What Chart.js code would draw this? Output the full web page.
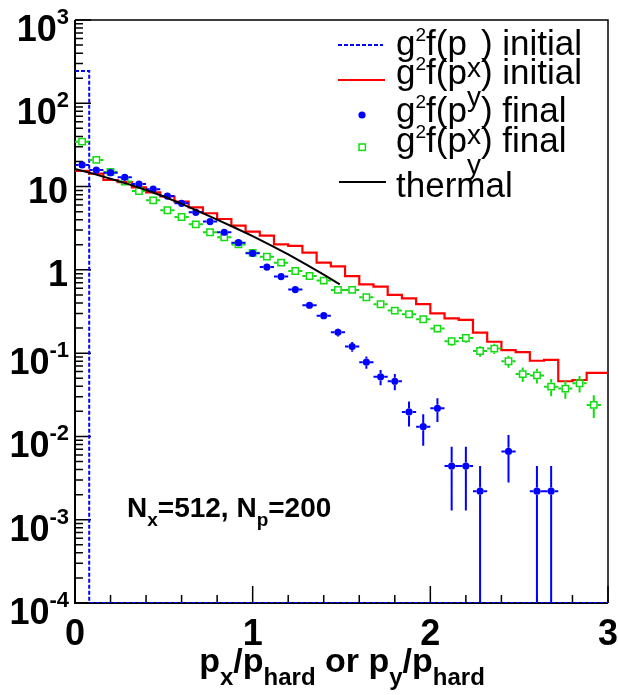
<!DOCTYPE html>
<html>
<head>
<meta charset="utf-8">
<script src="https://cdn.jsdelivr.net/npm/chart.js@4.4.1/dist/chart.umd.min.js"></script>
<style>
  html, body { margin: 0; padding: 0; background: #fff; }
  canvas { display: block; }
</style>
</head>
<body>
<canvas id="chart" width="618" height="695"></canvas>
<script>
// histogram bins of width 0.08 in p/p_hard, first bin starts at 0
const binWidth = 0.08;
const X_MIN = 0, X_MAX = 3;
const Y_MIN = 1e-4, Y_MAX = 1e3;

// g^2 f(p_x) initial : everything sits in the first bin
const pxInitial = [244];

// g^2 f(p_y) initial (red histogram)
const pyInitial = [15.4, 14.3, 12.0, 11.3, 9.8, 8.5, 7.6, 6.6, 5.64, 4.78,
  4.08, 3.40, 2.87, 2.57, 2.02, 1.94, 1.61, 1.22, 1.10, 0.84,
  0.67, 0.63, 0.50, 0.455, 0.388, 0.30, 0.262, 0.251, 0.176, 0.137,
  0.109, 0.103, 0.081, 0.083, 0.046, 0.0476, 0.058, 0.058];

// g^2 f(p_x) final (blue dots), null = empty bin
const pxFinal = [18.2, 15.8, 14.7, 12.9, 10.7, 9.3, 7.7, 6.3, 4.9, 3.8,
  2.83, 2.12, 1.58, 1.08, 0.83, 0.58, 0.376, 0.282, 0.178, 0.12,
  0.078, 0.052, 0.046, 0.0197, 0.0131, 0.0218, 0.0044, 0.0044, 0.0022, null,
  0.0066, null, 0.0022, 0.0022, null, null, null, null];

// g^2 f(p_y) final (green open squares)
const pyFinal = [34.6, 20.9, 15.0, 11.5, 8.85, 6.84, 5.19, 4.31, 3.52, 2.83,
  2.46, 2.02, 1.60, 1.44, 1.22, 0.97, 0.845, 0.743, 0.574, 0.574,
  0.469, 0.386, 0.324, 0.293, 0.255, 0.197, 0.139, 0.152, 0.106, 0.1135,
  0.080, 0.056, 0.054, 0.0396, 0.0375, 0.0435, 0.0239, null];

// thermal curve
const thermalX = [0, 0.1, 0.2, 0.3, 0.4, 0.5, 0.6, 0.7, 0.8, 0.9, 1.0, 1.1, 1.2, 1.3, 1.4, 1.49];
const thermalY = [16.3, 14.3, 12.4, 10.7, 9.1, 7.6, 6.2, 5.0, 4.0, 3.2, 2.54, 1.98, 1.53, 1.16, 0.875, 0.67];

// weight of a single entry, gives the Poisson error bars
const countUnit = 0.0022;

const xTickValues = [0, 1, 2, 3];
const xTickLabels = ['0', '1', '2', '3'];
const yTickValues = [1e3, 1e2, 10, 1, 1e-1, 1e-2, 1e-3, 1e-4];
const yTickBase = ['10', '10', '10', '1', '10', '10', '10', '10'];
const yTickExp = ['3', '2', '', '', '-1', '-2', '-3', '-4'];

const FONT = '"Liberation Sans", Arial, Helvetica, sans-serif';
const BLUE = '#0000ff', RED = '#ff0000', GREEN = '#11dd11';

function stepPoints(values, nBins) {
  const pts = [];
  for (let k = 0; k < nBins; k++) {
    const v = k < values.length ? values[k] : 0;
    const y = v > 0 ? v : Y_MIN;
    const lo = k * binWidth;
    const hi = Math.min((k + 1) * binWidth, X_MAX);
    pts.push({ x: lo, y: y }, { x: hi, y: y });
  }
  return pts;
}

function binPoints(values) {
  const pts = [];
  values.forEach((v, k) => {
    if (v != null) pts.push({ x: (k + 0.5) * binWidth, y: v });
  });
  return pts;
}

const nBins = Math.ceil(X_MAX / binWidth);

// draw "text" parts one after another: [text, size, dy, bold]
function richText(ctx, x, y, parts, align) {
  let w = 0;
  parts.forEach(p => {
    ctx.font = (p[3] ? 'bold ' : '') + p[1] + 'px ' + FONT;
    w += ctx.measureText(p[0]).width;
  });
  let cx = x;
  if (align === 'right') cx = x - w;
  if (align === 'center') cx = x - w / 2;
  ctx.textAlign = 'left';
  ctx.textBaseline = 'alphabetic';
  parts.forEach(p => {
    ctx.font = (p[3] ? 'bold ' : '') + p[1] + 'px ' + FONT;
    ctx.fillText(p[0], cx, y + p[2]);
    cx += ctx.measureText(p[0]).width;
  });
}

const axesPlugin = {
  id: 'axesPlugin',
  beforeDatasetsDraw(chart) {
    const { ctx, chartArea: a } = chart;
    const xs = chart.scales.x, ys = chart.scales.y;
    ctx.save();
    ctx.strokeStyle = '#000';
    // frame
    ctx.lineWidth = 2;
    ctx.beginPath();
    ctx.moveTo(a.left, a.top); ctx.lineTo(a.left, a.bottom); ctx.lineTo(a.right, a.bottom);
    ctx.stroke();
    ctx.lineWidth = 1.5;
    ctx.beginPath();
    ctx.moveTo(a.left, a.top); ctx.lineTo(a.right, a.top); ctx.lineTo(a.right, a.bottom);
    ctx.stroke();
    // ticks, pointing into the plot
    ctx.lineWidth = 1.5;
    ctx.beginPath();
    for (let d = -4; d <= 3; d++) {
      const yp = ys.getPixelForValue(Math.pow(10, d));
      ctx.moveTo(a.left, yp); ctx.lineTo(a.left + 16, yp);
      if (d < 3) {
        for (let m = 2; m <= 9; m++) {
          const ym = ys.getPixelForValue(m * Math.pow(10, d));
          ctx.moveTo(a.left, ym); ctx.lineTo(a.left + 8, ym);
        }
      }
    }
    for (let i = 0; i <= 15; i++) {
      const v = i * 0.2;
      const xp = xs.getPixelForValue(v);
      const len = (i % 5 === 0) ? 17 : 8;
      ctx.moveTo(xp, a.bottom); ctx.lineTo(xp, a.bottom - len);
    }
    ctx.stroke();
    ctx.restore();
  },
  afterDraw(chart) {
    const { ctx } = chart;
    const xs = chart.scales.x, ys = chart.scales.y;
    ctx.save();
    ctx.fillStyle = '#000';
    // y labels
    yTickValues.forEach((v, i) => {
      const yp = ys.getPixelForValue(v);
      if (yTickExp[i]) {
        richText(ctx, 69, yp + 21, [[yTickBase[i], 36, 0, true], [yTickExp[i], 22, -17, true]], 'right');
      } else {
        richText(ctx, 68, yp + 16, [[yTickBase[i], 36, 0, true]], 'right');
      }
    });
    // x labels
    xTickValues.forEach((v, i) => {
      richText(ctx, xs.getPixelForValue(v), 645, [[xTickLabels[i], 36, 0, true]], 'center');
    });
    // x title
    richText(ctx, 342, 672, [
      ['p', 34, 0, true], ['x', 24, 13, true], ['/', 34, 0, true], ['p', 34, 0, true], ['hard', 24, 13, true],
      [' or ', 34, 0, true],
      ['p', 34, 0, true], ['y', 24, 13, true], ['/', 34, 0, true], ['p', 34, 0, true], ['hard', 24, 13, true]
    ], 'center');
    // run parameters
    richText(ctx, 127, 517, [
      ['N', 28, 0, true], ['x', 19, 9, true], ['=512, N', 28, 0, true], ['p', 19, 9, true], ['=200', 28, 0, true]
    ], 'left');

    // legend
    const tx = 396;
    const rows = [
      { base: 55, sub: 'x', tail: ') initial' },
      { base: 84, sub: 'y', tail: ') initial' },
      { base: 122, sub: 'x', tail: ') final' },
      { base: 152, sub: 'y', tail: ') final' }
    ];
    rows.forEach(r => {
      richText(ctx, tx, r.base, [
        ['g', 35, 0, false], ['2', 19, -14, false], ['f(p', 35, 0, false],
        [r.sub, 28, 22, false], [r.tail, 35, 0, false]
      ], 'left');
    });
    richText(ctx, tx, 197, [['thermal', 35, 0, false]], 'left');

    ctx.lineWidth = 2;
    ctx.strokeStyle = BLUE;
    ctx.setLineDash([4, 2]);
    ctx.beginPath(); ctx.moveTo(338, 45); ctx.lineTo(383, 45); ctx.stroke();
    ctx.setLineDash([]);
    ctx.strokeStyle = RED;
    ctx.beginPath(); ctx.moveTo(338, 80); ctx.lineTo(385, 80); ctx.stroke();
    ctx.fillStyle = BLUE;
    ctx.beginPath(); ctx.arc(362, 115, 3.6, 0, Math.PI * 2); ctx.fill();
    ctx.strokeStyle = GREEN; ctx.lineWidth = 1.5;
    ctx.strokeRect(359, 144, 6.4, 6.4);
    ctx.strokeStyle = '#000'; ctx.lineWidth = 2;
    ctx.beginPath(); ctx.moveTo(339, 182); ctx.lineTo(386, 182); ctx.stroke();
    ctx.restore();
  }
};

const errorBars = {
  id: 'errorBars',
  afterDatasetDraw(chart, args) {
    const ds = chart.data.datasets[args.index];
    if (!ds.errorBars) return;
    const { ctx, chartArea } = chart;
    const xs = chart.scales.x, ys = chart.scales.y;
    const gap = ds.errorGap;
    ctx.save();
    ctx.strokeStyle = ds.errorColor;
    ctx.lineWidth = 2;
    ctx.beginPath();
    ds.data.forEach(p => {
      const cx = xs.getPixelForValue(p.x), cy = ys.getPixelForValue(p.y);
      const xl = xs.getPixelForValue(p.x - binWidth / 2);
      const xr = Math.min(xs.getPixelForValue(p.x + binWidth / 2), chartArea.right);
      const err = Math.sqrt(p.y * countUnit);
      const yt = ys.getPixelForValue(p.y + err);
      const lo = p.y - err;
      const yb = lo > Y_MIN * 1.01 ? ys.getPixelForValue(lo) : chartArea.bottom;
      if (cx - gap > xl) {
        ctx.moveTo(xl, cy); ctx.lineTo(cx - gap, cy);
        ctx.moveTo(cx + gap, cy); ctx.lineTo(xr, cy);
      }
      if (cy - gap > yt) { ctx.moveTo(cx, cy - gap); ctx.lineTo(cx, yt); }
      if (yb > cy + gap) { ctx.moveTo(cx, cy + gap); ctx.lineTo(cx, yb); }
    });
    ctx.stroke();
    ctx.restore();
  }
};

const ctx = document.getElementById('chart').getContext('2d');
new Chart(ctx, {
  type: 'scatter',
  data: {
    datasets: [
      {
        label: 'thermal',
        data: thermalX.map((x, i) => ({ x: x, y: thermalY[i] })),
        showLine: true,
        borderColor: '#000',
        borderWidth: 2,
        pointRadius: 0,
        order: 0
      },
      {
        label: 'px final',
        data: binPoints(pxFinal),
        pointStyle: 'circle',
        pointRadius: 3.6,
        pointBackgroundColor: BLUE,
        pointBorderWidth: 0,
        borderColor: BLUE,
        errorBars: true,
        errorColor: BLUE,
        errorGap: 3.6,
        order: 1
      },
      {
        label: 'py final',
        data: binPoints(pyFinal),
        pointStyle: 'rect',
        pointRadius: 4.5,
        pointBackgroundColor: 'rgba(0,0,0,0)',
        pointBorderColor: GREEN,
        pointBorderWidth: 1.5,
        borderColor: GREEN,
        errorBars: true,
        errorColor: GREEN,
        errorGap: 3.9,
        order: 2
      },
      {
        label: 'py initial',
        data: stepPoints(pyInitial, nBins),
        showLine: true,
        borderColor: RED,
        borderWidth: 2.2,
        pointRadius: 0,
        order: 3
      },
      {
        label: 'px initial',
        data: stepPoints(pxInitial, nBins),
        showLine: true,
        borderColor: BLUE,
        borderWidth: 2,
        borderDash: [4, 2],
        pointRadius: 0,
        order: 4
      }
    ]
  },
  options: {
    responsive: false,
    devicePixelRatio: 1,
    animation: false,
    events: [],
    layout: { padding: { left: 75, top: 20, right: 10, bottom: 92 } },
    plugins: { legend: { display: false }, tooltip: { enabled: false } },
    scales: {
      x: { type: 'linear', min: X_MIN, max: X_MAX, display: false },
      y: { type: 'logarithmic', min: Y_MIN, max: Y_MAX, display: false }
    }
  },
  plugins: [axesPlugin, errorBars]
});
</script>
</body>
</html>
